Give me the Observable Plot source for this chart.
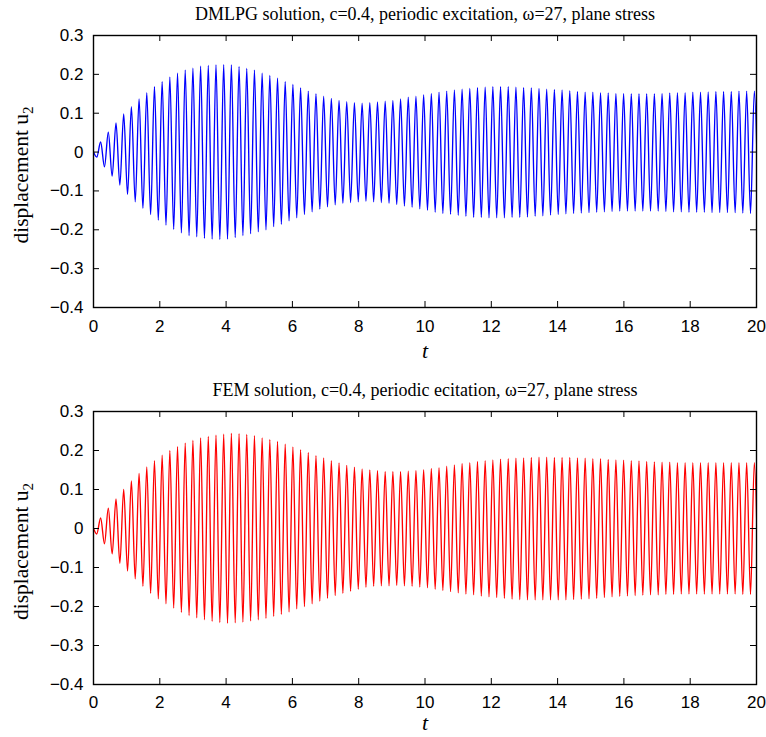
<!DOCTYPE html>
<html>
<head>
<meta charset="utf-8">
<script src="https://cdn.jsdelivr.net/npm/d3@7"></script>
<script src="https://cdn.jsdelivr.net/npm/@observablehq/plot@0.6"></script>
<style>
  html, body { margin: 0; padding: 0; background: #fff; }
  #chart { width: 766px; }
  #chart svg { display: block; }
</style>
</head>
<body>
<div id="chart"></div>
<script>
// ---- axis ticks ----
const xTicks = [0, 2, 4, 6, 8, 10, 12, 14, 16, 18, 20];
const yTicks = [-0.4, -0.3, -0.2, -0.1, 0, 0.1, 0.2, 0.3];

// ---- time grid of the successive extrema ----
const firstExtremumTime = 0.099;   // first (small) minimum
const halfPeriod = 0.116;          // time between a minimum and the next maximum

// ---- DMLPG (blue) extrema ----
const blueMinima = [
  -0.013, -0.038, -0.062, -0.085, -0.109, -0.128, -0.145, -0.161, -0.175, -0.188,
  -0.199, -0.208, -0.215, -0.218, -0.222, -0.224, -0.225, -0.224, -0.220, -0.215,
  -0.210, -0.205, -0.200, -0.192, -0.186, -0.177, -0.169, -0.161, -0.154, -0.147,
  -0.141, -0.136, -0.132, -0.130, -0.128, -0.127, -0.128, -0.130, -0.132, -0.135,
  -0.139, -0.142, -0.146, -0.150, -0.155, -0.158, -0.160, -0.163, -0.165, -0.168,
  -0.168, -0.169, -0.169, -0.169, -0.168, -0.168, -0.167, -0.165, -0.164, -0.162,
  -0.161, -0.159, -0.158, -0.157, -0.156, -0.155, -0.154, -0.153, -0.152, -0.152,
  -0.152, -0.152, -0.152, -0.152, -0.153, -0.154, -0.154, -0.155, -0.155, -0.155,
  -0.156, -0.156, -0.156, -0.156, -0.157, -0.158, -0.158
];
const blueMaxima = [
  0.026, 0.051, 0.075, 0.098, 0.117, 0.137, 0.153, 0.168, 0.181, 0.193,
  0.203, 0.211, 0.216, 0.221, 0.223, 0.224, 0.225, 0.224, 0.220, 0.215,
  0.211, 0.203, 0.197, 0.190, 0.181, 0.174, 0.165, 0.157, 0.150, 0.144,
  0.138, 0.133, 0.130, 0.127, 0.126, 0.127, 0.129, 0.131, 0.133, 0.137,
  0.141, 0.144, 0.148, 0.151, 0.154, 0.157, 0.160, 0.162, 0.164, 0.166,
  0.167, 0.168, 0.168, 0.168, 0.167, 0.166, 0.165, 0.164, 0.162, 0.161,
  0.160, 0.158, 0.156, 0.154, 0.154, 0.153, 0.152, 0.151, 0.151, 0.150,
  0.150, 0.150, 0.150, 0.151, 0.152, 0.153, 0.153, 0.154, 0.154, 0.155,
  0.156, 0.156, 0.156, 0.157, 0.157, 0.157
];

// ---- FEM (red) extrema ----
const redMinima = [
  -0.014, -0.039, -0.065, -0.089, -0.109, -0.129, -0.148, -0.166, -0.180, -0.193,
  -0.204, -0.215, -0.223, -0.229, -0.234, -0.238, -0.241, -0.243, -0.242, -0.240,
  -0.237, -0.234, -0.230, -0.225, -0.220, -0.214, -0.206, -0.200, -0.193, -0.186,
  -0.179, -0.172, -0.166, -0.161, -0.156, -0.151, -0.148, -0.147, -0.147, -0.146,
  -0.147, -0.148, -0.150, -0.152, -0.156, -0.159, -0.162, -0.165, -0.168, -0.170,
  -0.173, -0.175, -0.177, -0.179, -0.181, -0.182, -0.183, -0.183, -0.183, -0.183,
  -0.183, -0.183, -0.182, -0.181, -0.180, -0.179, -0.177, -0.175, -0.174, -0.173,
  -0.172, -0.171, -0.170, -0.170, -0.169, -0.169, -0.168, -0.168, -0.168, -0.168,
  -0.168, -0.168, -0.168, -0.168, -0.169, -0.169, -0.169
];
const redMaxima = [
  0.027, 0.052, 0.076, 0.100, 0.122, 0.141, 0.158, 0.174, 0.188, 0.200,
  0.210, 0.219, 0.226, 0.232, 0.236, 0.239, 0.242, 0.244, 0.243, 0.241,
  0.238, 0.232, 0.228, 0.223, 0.216, 0.209, 0.202, 0.195, 0.187, 0.181,
  0.174, 0.168, 0.162, 0.157, 0.153, 0.150, 0.148, 0.146, 0.146, 0.146,
  0.147, 0.149, 0.151, 0.154, 0.156, 0.160, 0.163, 0.167, 0.169, 0.172,
  0.174, 0.176, 0.178, 0.179, 0.180, 0.181, 0.182, 0.183, 0.183, 0.182,
  0.182, 0.182, 0.181, 0.180, 0.179, 0.179, 0.177, 0.176, 0.175, 0.174,
  0.173, 0.172, 0.171, 0.170, 0.170, 0.169, 0.169, 0.169, 0.169, 0.169,
  0.169, 0.169, 0.169, 0.169, 0.169, 0.169
];

// ---- texts ----
const titleTop = "DMLPG solution, c=0.4, periodic excitation, \u03C9=27, plane stress";
const titleBottom = "FEM solution, c=0.4, periodic ecitation, \u03C9=27, plane stress";
const yLabelMain = "displacement u";
const yLabelSub = "2";
const xLabel = "t";

// ---- build the series: start at rest, then alternate minima / maxima ----
function buildSeries(minima, maxima) {
  const pts = [{t: 0, u: 0}];
  for (let k = 0; k < minima.length; k++) {
    pts.push({t: firstExtremumTime + 2 * k * halfPeriod, u: minima[k]});
    if (k < maxima.length) pts.push({t: firstExtremumTime + (2 * k + 1) * halfPeriod, u: maxima[k]});
  }
  return pts;
}
const blueSeries = buildSeries(blueMinima, blueMaxima);
const redSeries = buildSeries(redMinima, redMaxima);

const W = 766, mL = 93, mR = 10;
const serif = "'Liberation Serif', 'Times New Roman', Times, serif";
const sans = "'Liberation Sans', Arial, Helvetica, sans-serif";
const fmtY = d => d === 0 ? "0" : d3.format(".1f")(d);

function panel(data, color, title, height, marginTop, marginBottom, xPad, tDy) {
  const fw = W - mL - mR;
  const fh = height - marginTop - marginBottom;
  const svg = Plot.plot({
    width: W, height,
    marginLeft: mL, marginRight: mR, marginTop, marginBottom,
    style: {fontFamily: sans, fontSize: "17px", color: "#000", background: "#fff"},
    x: {domain: [0, 20]},
    y: {domain: [-0.4, 0.3]},
    marks: [
      Plot.line(data, {x: "t", y: "u", stroke: color, strokeWidth: 1.35, curve: "monotone-x", clip: true}),
      Plot.tickX(xTicks, {x: d => d, insetBottom: fh - 6, stroke: "#000", strokeWidth: 1}),
      Plot.tickX(xTicks, {x: d => d, insetTop: fh - 6, stroke: "#000", strokeWidth: 1}),
      Plot.tickY(yTicks, {y: d => d, insetRight: fw - 6, stroke: "#000", strokeWidth: 1}),
      Plot.tickY(yTicks, {y: d => d, insetLeft: fw - 6, stroke: "#000", strokeWidth: 1}),
      Plot.frame({stroke: "#000", strokeWidth: 1.4}),
      Plot.axisX(xTicks, {tickSize: 0, tickPadding: xPad, label: null, fontSize: 17, fontFamily: sans}),
      Plot.axisY(yTicks, {tickSize: 0, tickPadding: 10, label: null, tickFormat: fmtY, fontSize: 17, fontFamily: sans}),
      Plot.text([title], {frameAnchor: "top", lineAnchor: "middle", dy: -21, fontFamily: serif, fontSize: 18, fill: "#000"}),
      Plot.text([xLabel], {frameAnchor: "bottom", lineAnchor: "bottom", dy: tDy, fontFamily: serif, fontStyle: "italic", fontSize: 22, fill: "#000"})
    ]
  });
  const s = d3.select(svg);
  const lab = s.append("text")
    .attr("transform", `translate(28, ${marginTop + fh / 2 + 4}) rotate(-90)`)
    .attr("text-anchor", "middle")
    .attr("font-family", serif)
    .attr("font-size", 21.5)
    .attr("fill", "#000");
  lab.append("tspan").text(yLabelMain);
  lab.append("tspan").attr("dy", 5).attr("font-size", 15).text(yLabelSub);
  return svg;
}

const chart = document.getElementById("chart");
chart.appendChild(panel(blueSeries, "#0000ff", titleTop, 372, 35, 65, 12, 50));
chart.appendChild(panel(redSeries, "#ff0000", titleBottom, 365, 39, 53, 11, 45));
</script>
</body>
</html>
